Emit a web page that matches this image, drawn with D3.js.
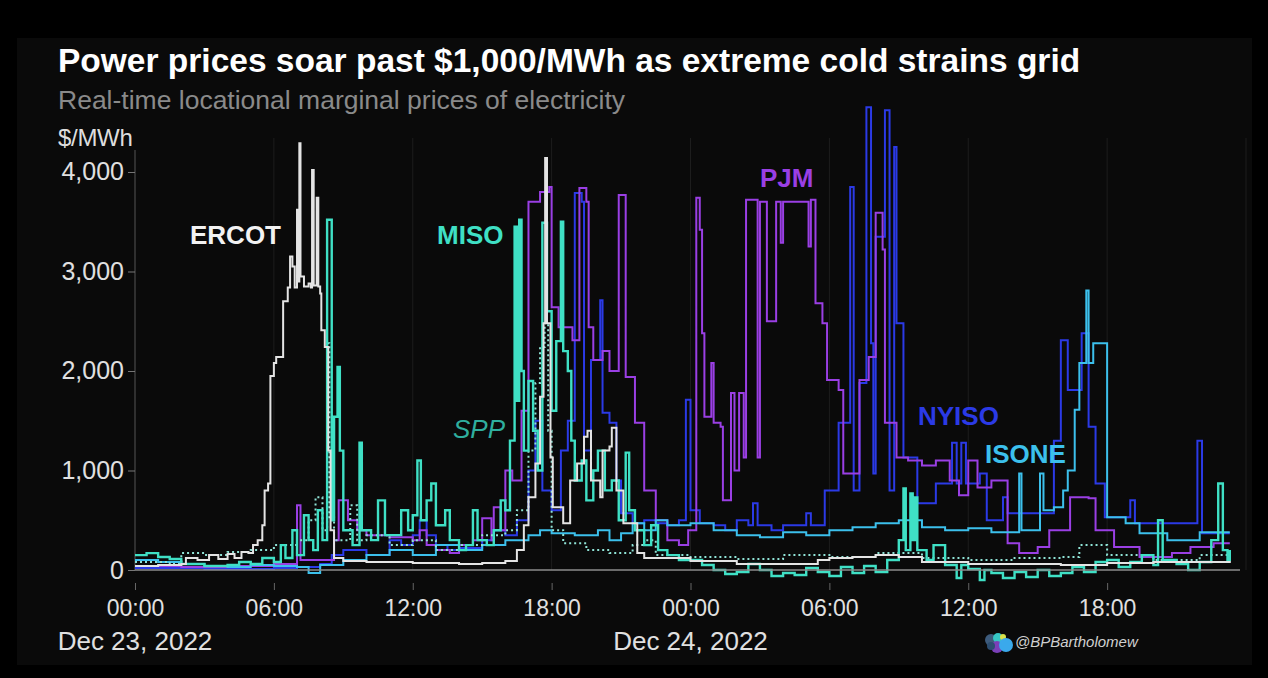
<!DOCTYPE html>
<html>
<head>
<meta charset="utf-8">
<script src="https://cdn.jsdelivr.net/npm/d3@7"></script>
<style>
  body { margin: 0; background: #000; }
  svg { display: block; font-family: "Liberation Sans", Arial, sans-serif; }
</style>
</head>
<body>
<div id="chart"></div>
<script>
// breakpoints: [hours since Dec 23 00:00, $/MWh]
const ercot = [[0,40],[1,50],[2,60],[2.2,120],[2.7,100],[3.2,150],[3.6,110],[4,160],[4.3,120],[4.6,180],[4.9,170],[5.1,250],[5.3,300],[5.5,450],[5.6,800],[5.75,870],[5.85,1950],[6,2080],[6.1,2140],[6.4,2700],[6.6,2840],[6.7,3150],[6.8,3050],[6.9,2840],[7,3620],[7.05,2900],[7.1,4290],[7.15,2950],[7.3,2850],[7.5,2880],[7.6,2840],[7.65,4020],[7.72,2860],[7.85,3740],[7.92,2850],[8,2780],[8.05,2410],[8.2,2240],[8.35,1200],[8.45,400],[8.6,120],[9,90],[10,80],[12,70],[14,60],[15,70],[16,90],[16.5,200],[16.8,450],[17,730],[17.3,1070],[17.5,1740],[17.65,2480],[17.72,4140],[17.8,2480],[17.95,1130],[18.05,630],[18.5,470],[18.8,900],[19.1,1070],[19.4,1340],[19.55,1400],[19.7,900],[20.1,730],[20.2,1200],[20.5,1240],[20.6,1430],[20.8,800],[21.1,470],[21.7,170],[22,120],[24,90],[26,60],[28,60],[29.5,100],[30,120],[31,130],[32,150],[33,130],[34,80],[36,60],[40,50],[42,70],[44,80],[47.3,70]];

const miso = [[0,150],[0.5,170],[1,130],[1.5,110],[2,60],[3,40],[4,50],[4.5,80],[5,60],[5.5,120],[6,80],[6.3,250],[6.5,120],[6.8,400],[7,150],[7.3,550],[7.5,300],[7.7,200],[7.9,600],[8.1,300],[8.3,3520],[8.5,500],[8.6,1540],[8.75,2040],[8.85,1200],[9,400],[9.4,250],[9.7,1280],[9.8,400],[10.2,300],[10.5,700],[10.8,350],[11.5,600],[11.8,400],[12,550],[12.2,1100],[12.35,500],[12.6,700],[12.8,870],[13,450],[13.4,600],[13.6,300],[14,200],[14.3,250],[14.6,600],[14.8,300],[15.2,250],[15.5,400],[15.8,700],[16,600],[16.2,1300],[16.4,3450],[16.5,1700],[16.6,3520],[16.7,2000],[16.8,1200],[17,1900],[17.2,1400],[17.4,1000],[17.6,3490],[17.8,2600],[18,1600],[18.2,2300],[18.4,3500],[18.5,2200],[18.7,2000],[18.85,1300],[19,900],[19.3,1100],[19.5,700],[19.8,1000],[20,1200],[20.3,800],[20.6,900],[20.9,500],[21.2,1180],[21.35,600],[21.6,400],[22,250],[22.3,450],[22.6,200],[23,150],[23.5,100],[24,100],[24.5,50],[25,0],[25.5,-40],[26,-20],[26.5,60],[27,0],[27.5,-60],[28,-30],[28.5,-50],[29,20],[29.5,-20],[30,-60],[30.5,30],[31,-30],[31.5,40],[32,-20],[32.5,100],[33,300],[33.2,820],[33.3,200],[33.5,770],[33.6,300],[33.7,730],[33.8,200],[34.2,100],[34.5,250],[35,50],[35.5,-80],[35.7,50],[36,10],[36.5,-100],[36.7,0],[37,-30],[37.5,-80],[38,-20],[38.5,-70],[39,0],[39.5,-60],[40,-30],[40.5,30],[41,-20],[41.5,80],[42,100],[42.5,30],[43,80],[43.5,150],[44,50],[44.2,500],[44.4,100],[45,60],[45.5,0],[46,80],[46.5,300],[46.8,870],[47,200],[47.2,100],[47.3,200]];

const spp = [[0,80],[1.5,60],[2,170],[3,150],[4,180],[5,200],[6,250],[7,300],[7.5,500],[7.8,730],[8.1,400],[8.3,2280],[8.4,530],[8.6,300],[9.3,650],[9.6,300],[10,350],[11,250],[12,300],[13,200],[14,250],[15,350],[16,400],[16.5,600],[17,1200],[17.3,1880],[17.5,2240],[17.7,2480],[17.85,1400],[18,400],[18.5,270],[19.5,200],[20.5,170],[21.5,250],[22,300],[22.5,150],[24,130],[26,110],[28,150],[30,130],[32,170],[34,120],[36,100],[38,120],[40,130],[40.8,250],[41.5,250],[42,150],[44,100],[46,150],[47.3,120]];

const pjm = [[0,40],[2,30],[4,40],[6,60],[7,650],[7.15,100],[8,100],[8.6,300],[8.8,700],[9.2,500],[9.6,400],[10,350],[11,330],[12,300],[12.3,400],[12.6,250],[13,200],[13.6,170],[14,250],[14.6,300],[15,520],[15.4,300],[15.5,630],[15.8,400],[16,1000],[16.3,900],[16.7,1600],[17,3700],[17.5,3800],[17.9,3850],[18,2640],[18.3,2440],[18.9,2310],[19.2,3840],[19.5,3700],[19.6,2440],[19.8,2110],[20.2,2200],[20.5,2000],[20.9,3770],[21.2,1940],[21.6,1480],[22,800],[22.5,500],[23,300],[23.5,250],[23.9,400],[24.25,3740],[24.4,3420],[24.5,2380],[24.6,1540],[24.9,2080],[25,1480],[25.3,1440],[25.4,700],[25.75,1780],[25.9,1000],[26.1,1780],[26.3,1130],[26.4,3720],[26.9,1130],[27,3700],[27.3,2500],[27.7,3700],[27.9,3290],[28,3700],[29.1,3250],[29.2,3720],[29.4,2680],[29.7,2480],[29.9,1910],[30.4,1810],[30.6,970],[31.1,970],[31.3,1910],[31.7,2140],[32,3590],[32.3,3220],[32.4,1480],[32.9,1130],[33.4,1100],[34,1050],[34.6,1100],[35.2,900],[35.6,750],[36,1100],[36.4,830],[37,900],[37.7,270],[38.2,170],[39,230],[39.5,400],[40.4,730],[41.2,720],[41.5,400],[42.3,230],[43.4,130],[44.8,170],[45.6,230],[46.6,270],[47.3,270]];

const nyiso = [[0,20],[3,10],[6,20],[7,30],[8,60],[8.5,150],[9,200],[10,150],[11,300],[11.5,250],[12,350],[12.3,500],[12.6,350],[13,250],[13.5,200],[14,220],[15,300],[15.5,400],[16,350],[16.5,500],[17,1000],[17.3,1500],[17.6,800],[18,600],[18.4,1200],[18.7,1500],[19,3790],[19.3,3700],[19.4,1200],[19.7,2110],[20.1,2710],[20.2,1580],[20.5,1480],[20.8,900],[21,570],[21.5,470],[22,500],[22.5,470],[23,450],[23.5,500],[23.8,1710],[24,600],[24.4,470],[25,450],[25.5,400],[26,500],[26.5,450],[26.7,670],[26.9,450],[27.5,400],[28,450],[29,570],[29.2,450],[29.8,800],[30.4,1480],[30.9,3850],[31.05,800],[31.3,1880],[31.6,4650],[31.8,2280],[31.9,970],[32,3350],[32.4,4620],[32.6,800],[32.8,4250],[32.9,2480],[33.2,1130],[33.8,670],[34.6,870],[35.3,1280],[35.5,870],[35.7,1280],[35.9,870],[36.5,970],[36.8,500],[37.5,730],[37.7,570],[39.7,1300],[40,2310],[40.3,1810],[40.9,2380],[41.2,1440],[41.5,870],[41.9,530],[43,700],[43.2,470],[45.9,1300],[46.1,370],[47.3,370]];

const isone = [[0,100],[1,80],[2,60],[3,40],[4,30],[5,50],[6,40],[7,30],[7.5,-30],[8,50],[9,100],[10,150],[11,200],[12,150],[13,250],[14,200],[15,250],[16,300],[17,350],[17.5,400],[18,370],[19,350],[20,400],[20.5,300],[21,370],[21.5,470],[22,400],[22.5,500],[23,450],[24,470],[25,400],[26,350],[27,330],[28,380],[29,350],[30,400],[31,430],[32,470],[33,500],[34,430],[35,400],[36,420],[37,380],[38.2,970],[38.3,400],[39.1,970],[39.25,600],[39.7,630],[40.1,800],[40.3,1000],[40.6,1610],[40.8,2080],[41.1,2810],[41.2,2080],[41.4,2280],[42,530],[42.8,470],[43.4,370],[44.6,300],[46,380],[47.3,380]];

const yTicks = [0, 1000, 2000, 3000, 4000];
const dateLabels = ["Dec 23, 2022", "Dec 24, 2022"];

const width = 1268, height = 678;
const t0 = new Date(2022, 11, 23);
const toDate = h => new Date(t0.getTime() + h * 36e5);

const x = d3.scaleTime()
    .domain([t0, toDate(48)])
    .range([135, 1246]);
const y = d3.scaleLinear()
    .domain([0, 4221])
    .range([570, 150]);

const svg = d3.select("#chart").append("svg")
    .attr("width", width)
    .attr("height", height);

svg.append("rect")
    .attr("x", 17).attr("y", 38)
    .attr("width", 1235).attr("height", 627)
    .attr("fill", "#0a0a0a");

// titles
svg.append("text")
    .attr("x", 58).attr("y", 72)
    .attr("fill", "#fff")
    .style("font-size", "33.5px")
    .style("font-weight", "bold")
    .text("Power prices soar past $1,000/MWh as extreme cold strains grid");
svg.append("text")
    .attr("x", 58).attr("y", 109)
    .attr("fill", "#8a8a8a")
    .style("font-size", "26.5px")
    .text("Real-time locational marginal prices of electricity");
svg.append("text")
    .attr("x", 58).attr("y", 146)
    .attr("fill", "#ddd")
    .style("font-size", "24px")
    .style("letter-spacing", "-0.3px")
    .text("$/MWh");

// faint vertical gridlines
const sixHours = x.ticks(d3.timeHour.every(6));
svg.append("g")
    .selectAll("line")
    .data(sixHours.slice(1))
    .join("line")
    .attr("x1", d => x(d)).attr("x2", d => x(d))
    .attr("y1", 138).attr("y2", 570)
    .attr("stroke", "#1d1d1d")
    .attr("stroke-width", 1);

// y axis
const yAxis = svg.append("g")
    .attr("transform", "translate(135,0)")
    .call(d3.axisLeft(y).tickValues(yTicks).tickFormat(d3.format(",")).tickSize(7).tickPadding(4));
yAxis.select(".domain").attr("stroke", "#555").attr("d", "M0,150V570");
yAxis.selectAll(".tick line").attr("stroke", "#777");
yAxis.selectAll(".tick text")
    .attr("fill", "#e0e0e0")
    .style("font-size", "25px")
    .style("font-family", "'Liberation Sans', Arial, sans-serif");

// x axis: ticks hang below the zero line
const xAxis = svg.append("g")
    .attr("transform", "translate(0,583)")
    .call(d3.axisBottom(x).ticks(d3.timeHour.every(6)).tickFormat(d3.timeFormat("%H:%M")).tickSize(7).tickPadding(10));
xAxis.select(".domain").remove();
xAxis.selectAll(".tick").filter(d => d > toDate(46)).remove();
xAxis.selectAll(".tick line").attr("stroke", "#666");
xAxis.selectAll(".tick text")
    .attr("fill", "#e0e0e0")
    .style("font-size", "23px")
    .style("font-family", "'Liberation Sans', Arial, sans-serif");

svg.append("g")
    .selectAll("text")
    .data(dateLabels)
    .join("text")
    .attr("x", (d, i) => x(toDate(i * 24)))
    .attr("y", 650)
    .attr("text-anchor", "middle")
    .attr("fill", "#e0e0e0")
    .style("font-size", "26px")
    .text(d => d);

// series
const series = [
    { name: "NYISO", data: nyiso, color: "#2b3ae6", w: 2 },
    { name: "PJM", data: pjm, color: "#9a3fe4", w: 2 },
    { name: "ISONE", data: isone, color: "#3cc0ec", w: 2 },
    { name: "SPP", data: spp, color: "#8fe3d6", w: 2, dash: "2,3" },
    { name: "MISO", data: miso, color: "#3fe0c5", w: 2.4 },
    { name: "ERCOT", data: ercot, color: "#e4e4e4", w: 2 }
];

const line = d3.line()
    .x(d => x(toDate(d[0])))
    .y(d => y(d[1]))
    .curve(d3.curveStepAfter);

svg.append("g")
    .selectAll("path")
    .data(series)
    .join("path")
    .attr("d", d => line(d.data))
    .attr("fill", "none")
    .attr("stroke", d => d.color)
    .attr("stroke-width", d => d.w)
    .attr("stroke-dasharray", d => d.dash || null)
    .attr("stroke-linejoin", "miter");

// zero line on top
svg.append("line")
    .attr("x1", 135).attr("x2", 1240)
    .attr("y1", y(0)).attr("y2", y(0))
    .attr("stroke", "#8c8c8c")
    .attr("stroke-width", 1.5);

// series labels
const labels = [
    { text: "ERCOT", x: 190, y: 244, color: "#f2f2f2", bold: true },
    { text: "MISO", x: 437, y: 244, color: "#3fe0c5", bold: true },
    { text: "SPP", x: 453, y: 438, color: "#2fae9e", italic: true },
    { text: "PJM", x: 760, y: 187, color: "#9a3fe4", bold: true },
    { text: "NYISO", x: 918, y: 425, color: "#2b3ae6", bold: true },
    { text: "ISONE", x: 985, y: 463, color: "#3cc0ec", bold: true }
];
svg.append("g")
    .selectAll("text")
    .data(labels)
    .join("text")
    .attr("x", d => d.x)
    .attr("y", d => d.y)
    .attr("fill", d => d.color)
    .style("font-size", "26px")
    .style("font-weight", d => d.bold ? "bold" : "normal")
    .style("font-style", d => d.italic ? "italic" : "normal")
    .text(d => d.text);

// watermark
const logo = svg.append("g").attr("transform", "translate(985,632)");
[[6, 8, 6, "#3d5b7c"], [13, 6, 5, "#36c6c4"], [18, 5, 3, "#d8e24a"], [12, 15, 6, "#7a3fb8"], [21, 13, 7, "#3aa9ec"], [6, 14, 4, "#2c4d70"]]
    .forEach(c => logo.append("circle").attr("cx", c[0]).attr("cy", c[1]).attr("r", c[2]).attr("fill", c[3]));
svg.append("text")
    .attr("x", 1015).attr("y", 647)
    .attr("fill", "#d0d0d0")
    .style("font-size", "15px")
    .style("font-style", "italic")
    .text("@BPBartholomew");
</script>
</body>
</html>
